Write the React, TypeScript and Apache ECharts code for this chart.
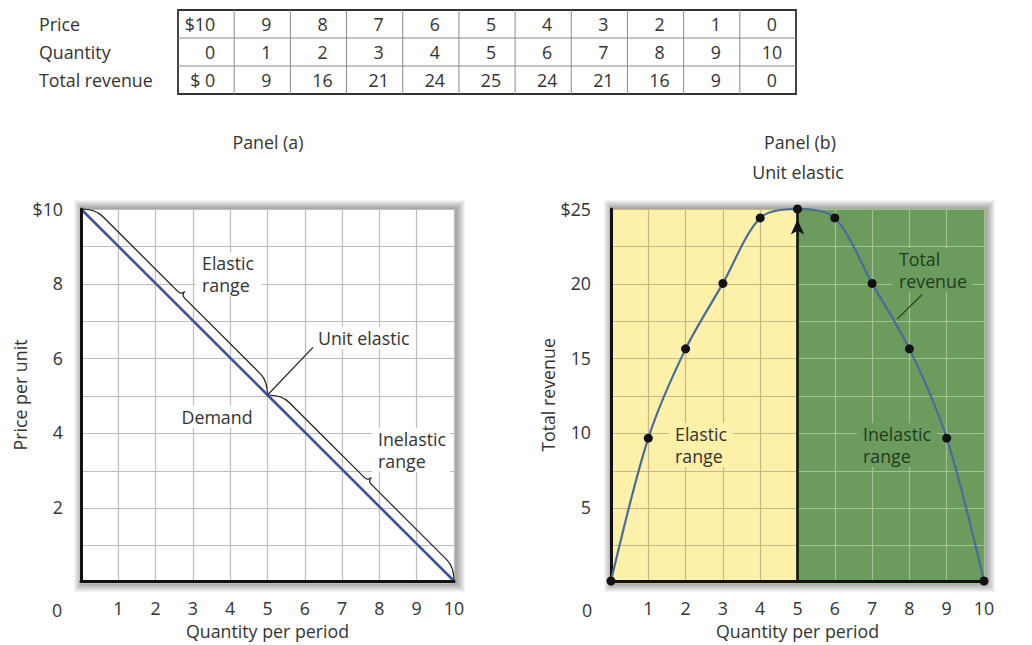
import React, { useEffect, useRef } from "react";
import * as echarts from "echarts";

// ---------- data ----------
const prices = [10, 9, 8, 7, 6, 5, 4, 3, 2, 1, 0];
const quantities = [0, 1, 2, 3, 4, 5, 6, 7, 8, 9, 10];
const totalRevenue = [0, 9, 16, 21, 24, 25, 24, 21, 16, 9, 0];
// total revenue points as plotted in panel (b)
const plottedRevenue = [0, 9.6, 15.6, 20, 24.4, 25, 24.4, 20, 15.6, 9.6, 0];
const tableRowLabels = ["Price", "Quantity", "Total revenue"];
const braces = [
  [0, 10, 5, 5],
  [5, 5, 10, 0],
];
const unitElasticLeader = [
  [5, 5],
  [6.22, 6.28],
];
const totalRevenueLeader = [
  [7.67, 17.6],
  [8.34, 19.25],
];
const unitElasticQ = 5;
const arrowTop = 24.8;

// ---------- styles ----------
const FONT = "'Open Sans', 'Noto Sans', sans-serif";
const FS = 17.8;
const TXT = "#333333";

const PANEL_A = { left: 81, top: 209, width: 373, height: 374 };
const PANEL_B = { left: 611, top: 209, width: 373, height: 374 };

function txt(
  x: number,
  y: number,
  text: string,
  o: { align?: string; fill?: string; bg?: string; pad?: number[]; size?: number } = {}
) {
  const align = o.align || "center";
  return {
    type: "text",
    x,
    y,
    z: 20,
    silent: true,
    style: {
      text,
      fill: o.fill || TXT,
      fontSize: o.size || FS,
      fontFamily: FONT,
      align,
      textAlign: align,
      verticalAlign: "middle",
      textVerticalAlign: "middle",
      lineHeight: 22,
      backgroundColor: o.bg,
      padding: o.pad,
    },
  };
}

function softShadow(r: { left: number; top: number; width: number; height: number }) {
  const els: any[] = [];
  for (let k = 1; k <= 9; k++) {
    els.push({
      type: "rect",
      z: -5,
      silent: true,
      shape: { x: r.left - k + 2, y: r.top - k, width: r.width + 2 * k, height: r.height + 2 * k },
      style: { fill: "rgba(0,0,0,0.045)" },
    });
  }
  return els;
}

function buildTable() {
  const left = 178;
  const right = 796;
  const top = 10;
  const rowH = 28;
  const nCols = prices.length;
  const colW = (right - left) / nCols;
  const els: any[] = [];
  els.push({
    type: "rect",
    z: 15,
    silent: true,
    shape: { x: left, y: top, width: right - left, height: rowH * 3 },
    style: { fill: "#fff", stroke: "#333", lineWidth: 1.8 },
  });
  for (let i = 1; i < nCols; i++) {
    const x = left + i * colW;
    els.push({
      type: "line",
      z: 16,
      silent: true,
      shape: { x1: x, y1: top, x2: x, y2: top + rowH * 3 },
      style: { stroke: "#8a8a8a", lineWidth: 1 },
    });
  }
  for (let r = 1; r < 3; r++) {
    const y = top + r * rowH;
    els.push({
      type: "line",
      z: 16,
      silent: true,
      shape: { x1: left, y1: y, x2: right, y2: y },
      style: { stroke: "#8a8a8a", lineWidth: 1 },
    });
  }
  const rows = [
    prices.map((p, i) => (i === 0 ? `$${p}` : String(p))),
    quantities.map((q) => String(q)),
    totalRevenue.map((t, i) => (i === 0 ? `$ ${t}` : String(t))),
  ];
  rows.forEach((row, r) => {
    const cy = top + rowH * (r + 0.5);
    els.push(txt(39, cy, tableRowLabels[r], { align: "left" }));
    row.forEach((v, c) => {
      if (c === 0) {
        els.push(txt(left + colW - 19, cy, v, { align: "right" }));
      } else {
        els.push(txt(left + colW * (c + 0.5) + 4, cy, v));
      }
    });
  });
  return els;
}

function braceRenderItem(params: any, api: any) {
  const p0 = api.coord([api.value(0), api.value(1)]);
  const p1 = api.coord([api.value(2), api.value(3)]);
  const dx = p1[0] - p0[0];
  const dy = p1[1] - p0[1];
  const L = Math.hypot(dx, dy);
  const ux = dx / L;
  const uy = dy / L;
  const nx = uy;
  const ny = -ux;
  const h = 10;
  const s = 5;
  const t = 5;
  const m = [(p0[0] + p1[0]) / 2, (p0[1] + p1[1]) / 2];
  const P = (b: number[], a: number, n: number) =>
    `${(b[0] + ux * a + nx * n).toFixed(2)} ${(b[1] + uy * a + ny * n).toFixed(2)}`;
  const d = [
    `M ${p0[0]} ${p0[1]}`,
    `Q ${P(p0, h, h)} ${P(p0, 2 * h, h)}`,
    `L ${P(m, -s, h)}`,
    `Q ${P(m, 0, h)} ${P(m, 0, h + t)}`,
    `Q ${P(m, 0, h)} ${P(m, s, h)}`,
    `L ${P(p1, -2 * h, h)}`,
    `Q ${P(p1, -h, h)} ${p1[0]} ${p1[1]}`,
  ].join(" ");
  return {
    type: "path",
    shape: { pathData: d },
    style: { stroke: "#1a1a1a", fill: "none", lineWidth: 1.2 },
  };
}

const labelStyle = { color: TXT, fontSize: FS, fontFamily: FONT };

function gridAxisX(gridIndex: number, min: number, max: number, color: string) {
  return {
    type: "value",
    gridIndex,
    min,
    max,
    interval: 1,
    z: 2,
    axisLine: { show: false },
    axisTick: { show: false },
    axisLabel: { show: false },
    splitLine: { show: true, lineStyle: { color, width: 1.2 } },
  };
}
function gridAxisY(gridIndex: number, max: number, interval: number, color: string) {
  return {
    type: "value",
    gridIndex,
    min: 0,
    max,
    interval,
    z: 2,
    axisLine: { show: false },
    axisTick: { show: false },
    axisLabel: { show: false },
    splitLine: { show: true, lineStyle: { color, width: 1.2 } },
  };
}

function visibleX(gridIndex: number) {
  return {
    type: "value",
    gridIndex,
    min: 0,
    max: 10,
    interval: 1,
    z: 5,
    axisLine: { show: true, onZero: false, lineStyle: { color: "#111", width: 3 } },
    axisTick: { show: false },
    splitLine: { show: false },
    axisLabel: { ...labelStyle, margin: 18, formatter: (v: number) => (v === 0 ? "" : String(v)) },
    name: "Quantity per period",
    nameLocation: "middle",
    nameGap: 41,
    nameTextStyle: labelStyle,
  };
}

export default function App() {
  const ref = useRef<HTMLDivElement>(null);
  useEffect(() => {
    document.body.style.margin = "0";
    if (!ref.current) return;
    const chart = echarts.init(ref.current, undefined, { renderer: "svg" });
    const option: any = {
      animation: false,
      grid: [
        { ...PANEL_A, show: true, backgroundColor: "#fff", borderWidth: 0, z: 0 },
        { ...PANEL_A, show: false },
        { ...PANEL_B, show: true, backgroundColor: "#fff", borderWidth: 0, z: 0 },
        { left: PANEL_B.left, top: PANEL_B.top, width: PANEL_B.width / 2, height: PANEL_B.height, show: true, backgroundColor: "#fdf0a8", borderWidth: 0, z: 1 },
        { left: PANEL_B.left + PANEL_B.width / 2, top: PANEL_B.top, width: PANEL_B.width / 2, height: PANEL_B.height, show: true, backgroundColor: "#6b9c5e", borderWidth: 0, z: 1 },
      ],
      xAxis: [
        gridAxisX(0, 0, 10, "#bdbdbd"),
        visibleX(1),
        visibleX(2),
        gridAxisX(3, 0, 5, "#cbb68a"),
        gridAxisX(4, 5, 10, "#a2c296"),
      ],
      yAxis: [
        gridAxisY(0, 10, 1, "#bdbdbd"),
        {
          type: "value",
          gridIndex: 1,
          min: 0,
          max: 10,
          interval: 1,
          z: 5,
          axisLine: { show: true, onZero: false, lineStyle: { color: "#111", width: 3 } },
          axisTick: { show: false },
          splitLine: { show: false },
          axisLabel: {
            ...labelStyle,
            margin: 18,
            formatter: (v: number) => (v === 10 ? "$10" : v > 0 && v % 2 === 0 ? String(v) : ""),
          },
          name: "Price per unit",
          nameLocation: "middle",
          nameGap: 40,
          nameTextStyle: labelStyle,
        },
        {
          type: "value",
          gridIndex: 2,
          min: 0,
          max: 25,
          interval: 2.5,
          z: 5,
          axisLine: { show: true, onZero: false, lineStyle: { color: "#111", width: 3 } },
          axisTick: { show: false },
          splitLine: { show: false },
          axisLabel: {
            ...labelStyle,
            margin: 20,
            formatter: (v: number) => (v === 25 ? "$25" : v > 0 && v % 5 === 0 ? String(v) : ""),
          },
          name: "Total revenue",
          nameLocation: "middle",
          nameGap: 51,
          nameTextStyle: labelStyle,
        },
        gridAxisY(3, 25, 2.5, "#cbb68a"),
        gridAxisY(4, 25, 2.5, "#a2c296"),
      ],
      series: [
        {
          name: "Demand",
          type: "line",
          xAxisIndex: 1,
          yAxisIndex: 1,
          data: quantities.map((q, i) => [q, prices[i]]),
          symbol: "none",
          lineStyle: { color: "#3d4f9f", width: 2.6 },
          z: 4,
          silent: true,
        },
        {
          name: "Braces",
          type: "custom",
          xAxisIndex: 1,
          yAxisIndex: 1,
          data: braces,
          encode: { x: [0, 2], y: [1, 3] },
          renderItem: braceRenderItem,
          clip: false,
          z: 4,
          silent: true,
        },
        {
          name: "UnitLeader",
          type: "line",
          xAxisIndex: 1,
          yAxisIndex: 1,
          data: unitElasticLeader,
          symbol: "none",
          lineStyle: { color: "#222", width: 1.2 },
          z: 4,
          silent: true,
        },
        {
          name: "Arrow",
          type: "line",
          xAxisIndex: 2,
          yAxisIndex: 2,
          data: [
            { value: [unitElasticQ, 0], symbol: "none" },
            { value: [unitElasticQ, arrowTop], symbol: "arrow", symbolSize: [10, 15], symbolOffset: [0, "50%"] },
          ],
          lineStyle: { color: "#111", width: 2.6 },
          itemStyle: { color: "#111" },
          z: 5,
          silent: true,
        },
        {
          name: "TRLeader",
          type: "line",
          xAxisIndex: 2,
          yAxisIndex: 2,
          data: totalRevenueLeader,
          symbol: "none",
          lineStyle: { color: "#1f3b1f", width: 1.2 },
          z: 5,
          silent: true,
        },
        {
          name: "Total revenue",
          type: "line",
          xAxisIndex: 2,
          yAxisIndex: 2,
          data: quantities.map((q, i) => [q, plottedRevenue[i]]),
          smooth: 0.3,
          symbol: "circle",
          symbolSize: 9,
          itemStyle: { color: "#111" },
          lineStyle: { color: "#4a6c9b", width: 2.2 },
          z: 6,
          silent: true,
        },
      ],
      graphic: [
        ...softShadow(PANEL_A),
        ...softShadow(PANEL_B),
        ...buildTable(),
        txt(268, 142, "Panel (a)"),
        txt(800, 142, "Panel (b)"),
        txt(798, 172, "Unit elastic"),
        txt(57, 610, "0"),
        txt(587, 610, "0"),
        txt(196, 274, "Elastic\nrange", { align: "left", bg: "#fff", pad: [0, 8, 0, 6] }),
        txt(217, 417, "Demand", { bg: "#fff", pad: [0, 4] }),
        txt(314, 338, "Unit elastic", { align: "left", bg: "#fff", pad: [0, 4] }),
        txt(372, 450, "Inelastic\nrange", { align: "left", bg: "#fff", pad: [0, 4, 0, 6] }),
        txt(669, 445, "Elastic\nrange", { align: "left", bg: "#fdf0a8", pad: [0, 6] }),
        txt(857, 445, "Inelastic\nrange", { align: "left", fill: "#1f3b1f", bg: "#6b9c5e", pad: [0, 6] }),
        txt(893, 270, "Total\nrevenue", { align: "left", fill: "#1f3b1f", bg: "#6b9c5e", pad: [0, 6] }),
      ],
    };
    chart.setOption(option);
    return () => chart.dispose();
  }, []);
  return <div ref={ref} style={{ width: 1032, height: 645 }} />;
}
